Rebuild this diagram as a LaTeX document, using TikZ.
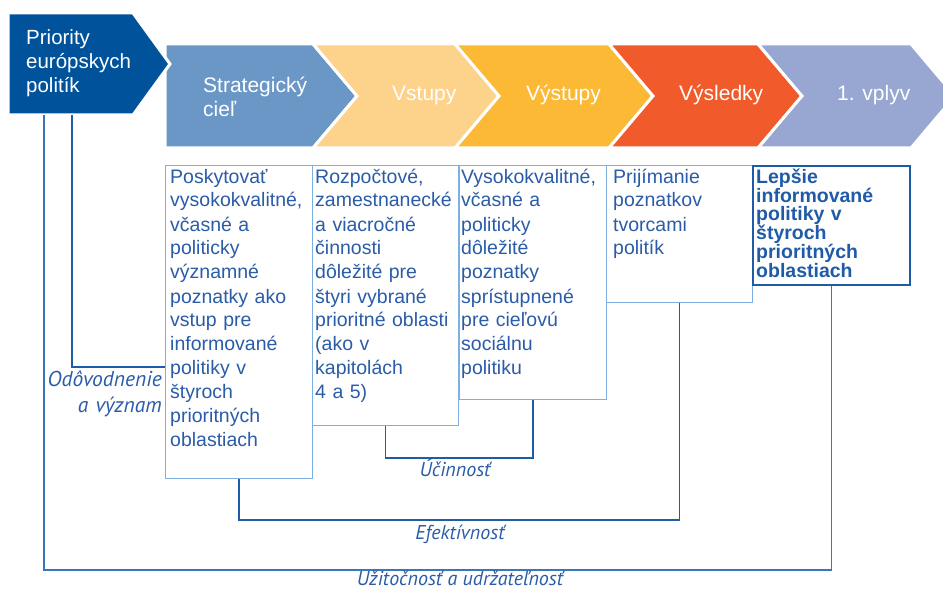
\documentclass[tikz,border=0pt]{standalone}
\usepackage{fontspec}
\setmainfont{Liberation Sans}
\newfontfamily\labelfont{PT Sans}
\usepackage{xcolor}
\usetikzlibrary{positioning}

\definecolor{prioblue}{HTML}{00539B}
\definecolor{stratblue}{HTML}{6A97C5}
\definecolor{inyellow}{HTML}{FDD28B}
\definecolor{outorange}{HTML}{FBB935}
\definecolor{resred}{HTML}{F15B2C}
\definecolor{impblue}{HTML}{97A7D1}
\definecolor{boxline}{HTML}{7DB0E0}
\definecolor{linkblue}{HTML}{1F5BA6}
\definecolor{outerblue}{HTML}{3B75BC}
\definecolor{textblue}{HTML}{2A5CA8}

\tikzset{
  chev/.style={draw=white, line width=3pt, line join=miter},
  chevtext/.style={text=white, inner sep=0pt, anchor=base west,
    font=\fontsize{21}{24}\selectfont},
  infobox/.style={draw=boxline, line width=1.2pt, fill=white, anchor=north west, inner sep=0pt},
  boxtext/.style={text=textblue, inner sep=0pt, anchor=base west, align=left,
    text width=175pt, font=\fontsize{19.5}{24}\selectfont},
  link/.style={draw=linkblue, line width=1.5pt},
  lbl/.style={text=textblue, inner sep=0pt, font=\labelfont\itshape\fontsize{20}{26}\selectfont}
}

\begin{document}
\begin{tikzpicture}[x=1pt, y=-1pt]
  \useasboundingbox (0,0) rectangle (943,591);
  \clip (0,0) rectangle (943,591);

  % chevrons
  \filldraw[chev, fill=stratblue] (165,44) -- (313,44) -- (357,96) -- (313,148) -- (165,148) -- cycle;
  \filldraw[chev, fill=inyellow] (313,44) -- (455,44) -- (499,96) -- (455,148) -- (313,148) -- (357,96) -- cycle;
  \filldraw[chev, fill=outorange] (455,44) -- (609,44) -- (653,96) -- (609,148) -- (455,148) -- (499,96) -- cycle;
  \filldraw[chev, fill=resred] (609,44) -- (758,44) -- (802,96) -- (758,148) -- (609,148) -- (653,96) -- cycle;
  \filldraw[chev, fill=impblue] (758,44) -- (911,44) -- (955,96) -- (911,148) -- (758,148) -- (802,96) -- cycle;
  \filldraw[chev, fill=prioblue] (8,13) -- (133,13) -- (170,64) -- (133,115) -- (8,115) -- cycle;

  \node[chevtext, align=left, text width=140pt, font=\fontsize{20.5}{24}\selectfont] (prio) at (26,45) {Priority\\európskych\\politík};
  \node[chevtext, align=left, text width=140pt] (strat) at (203,93) {Strategický\\cieľ};
  \node[chevtext] (inp) at (392,101) {Vstupy};
  \node[chevtext] (outp) at (526,101) {Výstupy};
  \node[chevtext] (res) at (679,101) {Výsledky};
  \node[chevtext] (imp) at (837,101) {1. vplyv};

  % boxes
  \node[infobox, minimum width=147pt, minimum height=313pt] (b1) at (165,165) {};
  \node[infobox, minimum width=146pt, minimum height=260pt] (b2) at (312,165) {};
  \node[infobox, minimum width=147pt, minimum height=234pt] (b3) at (459,165) {};
  \node[infobox, minimum width=146pt, minimum height=137pt] (b4) at (606,165) {};
  \node[infobox, draw=linkblue, line width=2pt, minimum width=157pt, minimum height=119pt] (b5) at (752,165) {};

  \node[boxtext] (b1t) at (170,183) {Poskytovať\\vysokokvalitné,\\včasné a\\politicky\\významné\\poznatky ako\\vstup pre\\informované\\politiky v\\štyroch\\prioritných\\oblastiach};
  \node[boxtext] (b2t) at (315,183) {Rozpočtové,\\zamestnanecké\\a viacročné\\činnosti\\dôležité pre\\štyri vybrané\\prioritné oblasti\\(ako v\\kapitolách\\4 a 5)};
  \node[boxtext] (b3t) at (461,183) {Vysokokvalitné,\\včasné a\\politicky\\dôležité\\poznatky\\sprístupnené\\pre cieľovú\\sociálnu\\politiku};
  \node[boxtext] (b4t) at (613,183) {Prijímanie\\poznatkov\\tvorcami\\politík};
  \node[boxtext, text=linkblue, font=\bfseries\fontsize{19.5}{19}\selectfont] (b5t) at (756,183) {Lepšie\\informované\\politiky v\\štyroch\\prioritných\\oblastiach};

  % connectors
  \coordinate (pa) at (44,115);
  \coordinate (pb) at (72,115);
  \coordinate (od) at (165,367);
  \draw[link] (pb) |- (od);
  \draw[link, draw=outerblue] (pa) -- (pa |- 0,570) -| (b5.south);
  \draw[link] (b1.south) -- (b1.south |- 0,520) -| (b4.south);
  \draw[link] (b2.south) -- (b2.south |- 0,458) -| (b3.south);

  % labels
  \node[lbl, align=right, text width=150pt, anchor=base east, font=\labelfont\itshape\fontsize{21.5}{26}\selectfont] (just) at (162,386) {Odôvodnenie\\a význam};
  \node[lbl, anchor=base] (eff) at (455,476) {Účinnosť};
  \node[lbl, anchor=base] (effi) at (460,539) {Efektívnosť};
  \node[lbl, anchor=base] (util) at (460,585) {Užitočnosť a udržateľnosť};
\end{tikzpicture}
\end{document}
